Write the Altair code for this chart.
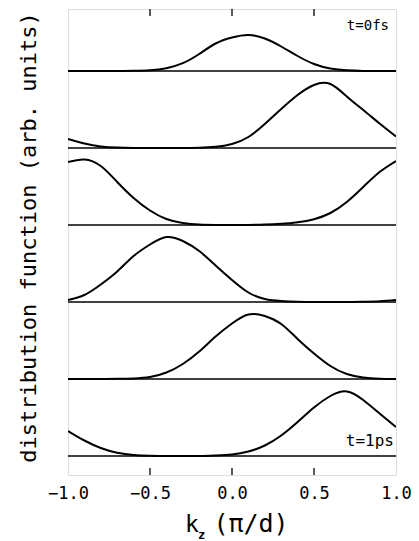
import altair as alt
import pandas as pd

# k_z grid (units of pi/d)
k = [-1.0, -0.9, -0.8, -0.7, -0.6, -0.5, -0.4, -0.3, -0.2, -0.1, 0.0,
     0.1, 0.2, 0.3, 0.4, 0.5, 0.6, 0.7, 0.8, 0.9, 1.0]

# distribution function for each snapshot, top (t=0fs) to bottom (t=1ps)
f1 = [0, 0, 0, 0, 0.15, 0.7, 2.8, 7.8, 17, 27.5, 33.5, 36, 32.5, 24.5, 15, 7, 2.5, 0.7, 0.1, 0, 0]
f2 = [9, 4.5, 1.5, 0.4, 0.1, 0, 0, 0, 0.3, 1.2, 4, 11, 24, 39, 53, 63, 64, 51.5, 38, 24.5, 11.5]
f3 = [63, 65.5, 59, 43, 27, 14.5, 6, 2, 0.5, 0.1, 0, 0.1, 0.4, 1.2, 2.8, 5.8, 12, 23, 38, 53, 64]
f4 = [2, 7, 17.5, 30.5, 46, 57.5, 65, 61, 51, 36.5, 22, 9.5, 3, 1, 0.3, 0, 0, 0, 0.3, 0.8, 2]
f5 = [0, 0, 0, 0.2, 0.6, 2, 6.5, 15, 27.5, 42.5, 55.5, 64.5, 63, 55, 40, 25.5, 13, 5, 1.5, 0.3, 0]
f6 = [25, 15.5, 8, 3.2, 1, 0.3, 0, 0, 0, 0.5, 1.5, 4.5, 10.5, 20.5, 34, 48.5, 60, 64.5, 56, 42.5, 29]
series = [f1, f2, f3, f4, f5, f6]

tick_vals = [-0.5, 0.0, 0.5]
label_vals = [-1.0, -0.5, 0.0, 0.5, 1.0]

# layout (plot units = pixels)
W, H = 328, 466
BASE0, STEP = 19, 77
baselines = [BASE0 + (len(series) - 1 - i) * STEP for i in range(len(series))]

rows = []
for i, vals in enumerate(series):
    for kk, v in zip(k, vals):
        rows.append({"k": kk, "y": baselines[i] + v, "panel": i})
df = pd.DataFrame(rows)

MONO = "DejaVu Sans Mono"

xscale = alt.Scale(domain=[-1, 1], nice=False, zero=False)
yscale = alt.Scale(domain=[0, H], nice=False, zero=False)

curves = alt.Chart(df).mark_line(
    color="black", strokeWidth=2, interpolate="natural", clip=True
).encode(
    x=alt.X("k:Q", scale=xscale,
            axis=alt.Axis(values=label_vals, format=".1f", title=None,
                          domain=False, ticks=False, grid=False,
                          labelFlush=False, labelOverlap=False,
                          labelFont=MONO, labelFontSize=17, labelColor="black",
                          labelPadding=10)),
    y=alt.Y("y:Q", scale=yscale,
            axis=alt.Axis(title="distribution function (arb. units)",
                          labels=False, ticks=False, domain=False, grid=False,
                          titleFont=MONO, titleFontSize=22, titleFontWeight="normal",
                          titleColor="black", titleX=-33, titleY=228,
                          titleAlign="center", titleBaseline="alphabetic")),
    detail="panel:N",
)

sep = alt.Chart(pd.DataFrame({"b": baselines})).mark_rule(
    color="black", strokeWidth=1.6
).encode(
    y=alt.Y("b:Q", scale=yscale),
    x=alt.value(0), x2=alt.value(W),
)

tdf = pd.DataFrame({"t": tick_vals})
ticks_bottom = alt.Chart(tdf).mark_rule(color="black", strokeWidth=1.3).encode(
    x=alt.X("t:Q", scale=xscale), y=alt.value(H), y2=alt.value(H - 7)
)
ticks_top = alt.Chart(tdf).mark_rule(color="black", strokeWidth=1.3).encode(
    x=alt.X("t:Q", scale=xscale), y=alt.value(0), y2=alt.value(7)
)

def label(txt, x, y, size, align="left", weight="normal"):
    return alt.Chart(pd.DataFrame({"s": [txt]})).mark_text(
        font=MONO, fontSize=size, align=align, baseline="alphabetic",
        color="black", fontWeight=weight
    ).encode(text="s:N", x=alt.value(x), y=alt.value(y))

t0 = label("t=0fs", 321, 21, 14, align="right")
t1 = label("t=1ps", 326, 437, 16, align="right")
xk = label("k", 117, 523, 23)
xz = label("z", 130, 530, 12, weight="bold")
xp = label("(π/d)", 183, 523, 25, align="center")

chart = alt.layer(
    sep, ticks_bottom, ticks_top, curves, t0, t1, xk, xz, xp
).properties(
    width=W, height=H,
    autosize=alt.AutoSizeParams(type="none"),
    padding={"left": 60, "top": 1, "right": 15, "bottom": 66},
).configure_view(
    stroke="#111", strokeWidth=1.6
).configure(background="white")

chart.save("out.html", embed_options={"renderer": "svg", "actions": False})
